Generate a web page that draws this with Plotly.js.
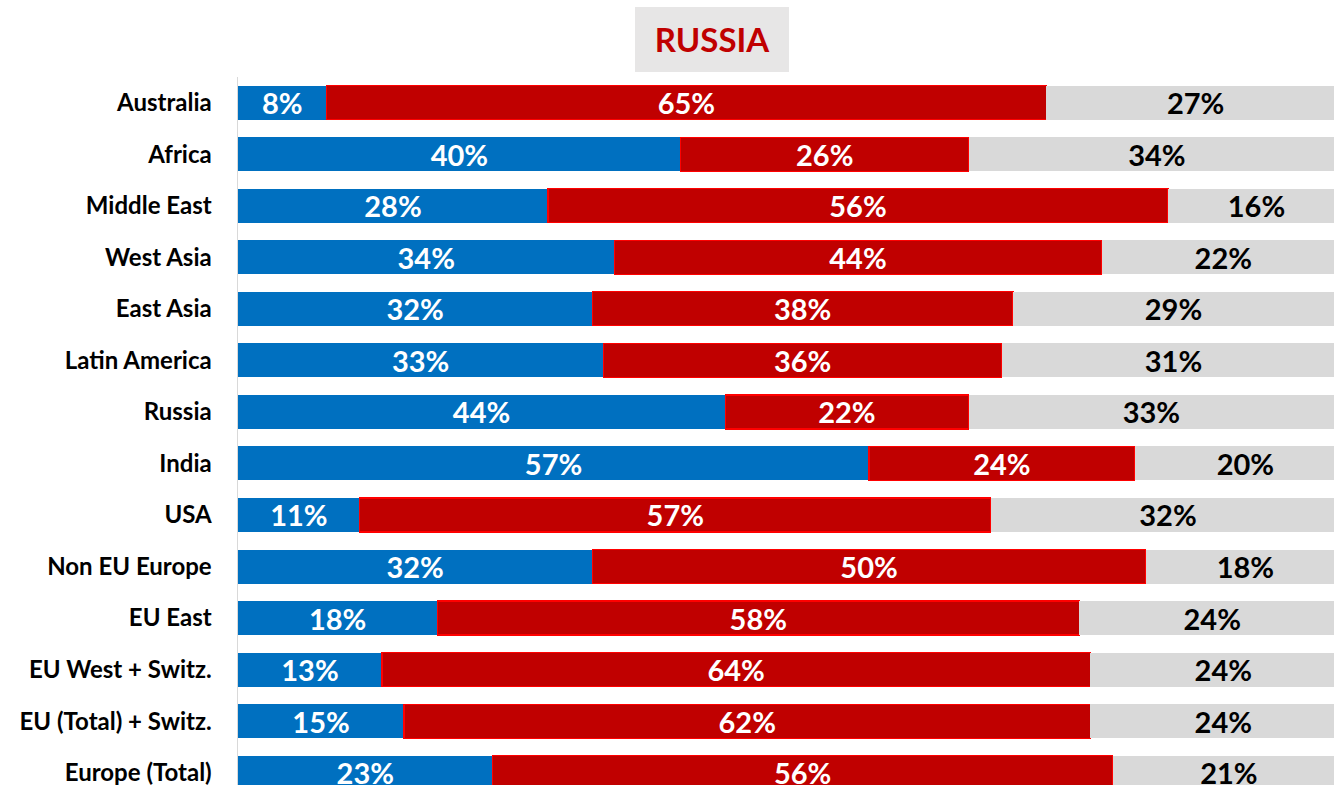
<!DOCTYPE html>
<html>
<head>
<meta charset="utf-8">
<script src="https://cdn.plot.ly/plotly-3.0.1.min.js"></script>
<style>html,body{margin:0;padding:0;background:#fff;}#chart{width:1334px;height:785px;}</style>
</head>
<body>
<div id="chart"></div>
<script>
const categories = ["Australia","Africa","Middle East","West Asia","East Asia","Latin America","Russia","India","USA","Non EU Europe","EU East","EU West + Switz.","EU (Total) + Switz.","Europe (Total)"];
const blueValues = [8,40,28,34,32,33,44,57,11,32,18,13,15,23];
const redValues  = [65,26,56,44,38,36,22,24,57,50,58,64,62,56];
const grayValues = [27,34,16,22,29,31,33,20,32,18,24,24,24,21];
const titleText = "RUSSIA";

const FONT = "Lato, 'Open Sans', sans-serif";
function mk(vals, color, textColor, line) {
  return {
    type: "bar", orientation: "h",
    y: categories, x: vals,
    text: vals.map(v => v + "%"),
    textposition: "inside", insidetextanchor: "middle",
    textangle: 0, constraintext: "none",
    textfont: {family: FONT, size: 29, color: textColor, weight: "bold"},
    marker: {color: color, line: line},
    hoverinfo: "skip", cliponaxis: true
  };
}
const data = [
  mk(blueValues, "#0070C0", "#FFFFFF", {width: 0}),
  mk(redValues, "#C00000", "#FFFFFF", {width: 1.2, color: "#FF0000"}),
  mk(grayValues, "#D9D9D9", "#000000", {width: 0})
];
const layout = {
  width: 1334, height: 785,
  margin: {l: 238, r: 0, t: 77, b: 0, pad: 0},
  barmode: "stack", bargap: 0.34,
  showlegend: false,
  paper_bgcolor: "#FFFFFF", plot_bgcolor: "#FFFFFF",
  title: {text: titleText, x: 712/1334, xanchor: "center", xref: "container",
          y: 1 - 40/785, yanchor: "middle", yref: "container",
          font: {family: FONT, size: 33, color: "#C00000", weight: "bold"}},
  xaxis: {range: [0, 99], showgrid: false, zeroline: false, showticklabels: false, showline: false, fixedrange: true},
  yaxis: {type: "category", categoryorder: "array", categoryarray: categories,
          range: [13.24, -0.5], showgrid: false, zeroline: false,
          showline: true, linecolor: "#D9D9D9", linewidth: 1.5,
          ticks: "", ticklabelstandoff: 20,
          tickfont: {family: FONT, size: 24, color: "#000000", weight: "bold"}},
  shapes: [{type: "rect", xref: "paper", yref: "paper", layer: "below",
            x0: (635-238)/1096, x1: (789-238)/1096,
            y0: 1 + (77-72)/708, y1: 1 + (77-7)/708,
            fillcolor: "#E7E6E6", line: {width: 0}}]
};
Plotly.newPlot("chart", data, layout, {displayModeBar: false, staticPlot: true});
</script>
</body>
</html>
